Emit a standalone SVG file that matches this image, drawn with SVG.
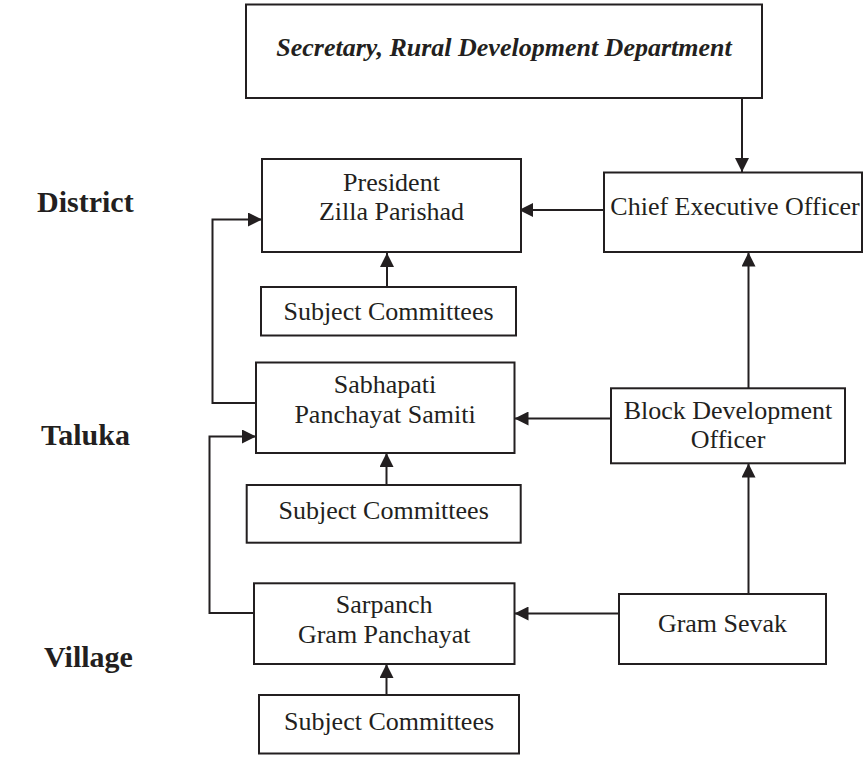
<svg xmlns="http://www.w3.org/2000/svg" width="865" height="761" viewBox="0 0 865 761">
<style>
.box{fill:#fff;stroke:#231f20;stroke-width:2}
.t{font-family:"Liberation Serif","Times New Roman",serif;font-size:26px;fill:#231f20;text-anchor:middle}
.ti{font-weight:bold;font-style:italic}
.lvl{font-family:"Liberation Serif","Times New Roman",serif;font-size:30px;font-weight:bold;fill:#231f20}
.c{fill:none;stroke:#231f20;stroke-width:2}
</style>
<defs>
<marker id="ah" markerUnits="userSpaceOnUse" markerWidth="14" markerHeight="14" refX="14" refY="7" orient="auto">
<path d="M0,0 L14,7 L0,14 z" fill="#231f20"/>
</marker>
</defs>
<g id="levels">
<text class="lvl" x="37" y="212">District</text>
<text class="lvl" x="41" y="445">Taluka</text>
<text class="lvl" x="44" y="667">Village</text>
</g>
<g id="connectors">
<line class="c" x1="742" y1="98" x2="742" y2="172" marker-end="url(#ah)"/>
<line class="c" x1="604" y1="210" x2="519" y2="210" marker-end="url(#ah)"/>
<line class="c" x1="387" y1="287" x2="387" y2="253" marker-end="url(#ah)"/>
<polyline class="c" points="259,403 212.5,403 212.5,219.5 262,219.5" marker-end="url(#ah)"/>
<line class="c" x1="748.5" y1="388" x2="748.5" y2="252.5" marker-end="url(#ah)"/>
<line class="c" x1="611" y1="418.5" x2="514.5" y2="418.5" marker-end="url(#ah)"/>
<line class="c" x1="386.5" y1="485" x2="386.5" y2="453" marker-end="url(#ah)"/>
<polyline class="c" points="254,613 209.5,613 209.5,436.5 256,436.5" marker-end="url(#ah)"/>
<line class="c" x1="748.5" y1="594" x2="748.5" y2="463.5" marker-end="url(#ah)"/>
<line class="c" x1="619" y1="613.5" x2="514.5" y2="613.5" marker-end="url(#ah)"/>
<line class="c" x1="386.5" y1="695" x2="386.5" y2="664" marker-end="url(#ah)"/>
</g>
<g id="secretary">
<rect class="box" x="246" y="4.5" width="516" height="93.5"/>
<text class="t ti" x="504" y="55.5">Secretary, Rural Development Department</text>
</g>
<g id="president">
<rect class="box" x="262" y="159" width="259" height="93"/>
<text class="t" x="391.5" y="190.5">President</text>
<text class="t" x="391.5" y="220">Zilla Parishad</text>
</g>
<g id="ceo">
<rect class="box" x="604" y="172.5" width="258" height="79.5"/>
<text class="t" x="735" y="215">Chief Executive Officer</text>
</g>
<g id="subject1">
<rect class="box" x="261" y="287" width="255" height="48.5"/>
<text class="t" x="388.5" y="320">Subject Committees</text>
</g>
<g id="sabhapati">
<rect class="box" x="256" y="362.5" width="258.5" height="90.5"/>
<text class="t" x="385" y="393.3">Sabhapati</text>
<text class="t" x="385" y="422.7">Panchayat Samiti</text>
</g>
<g id="bdo">
<rect class="box" x="611" y="388.3" width="234" height="75"/>
<text class="t" x="728" y="419">Block Development</text>
<text class="t" x="728" y="448.3">Officer</text>
</g>
<g id="subject2">
<rect class="box" x="246.7" y="485" width="274" height="57.7"/>
<text class="t" x="383.7" y="519.3">Subject Committees</text>
</g>
<g id="sarpanch">
<rect class="box" x="254" y="583.3" width="260.5" height="80.7"/>
<text class="t" x="384.2" y="613.3">Sarpanch</text>
<text class="t" x="384.2" y="642.7">Gram Panchayat</text>
</g>
<g id="gramsevak">
<rect class="box" x="619" y="594" width="207" height="70"/>
<text class="t" x="722.5" y="631.7">Gram Sevak</text>
</g>
<g id="subject3">
<rect class="box" x="259" y="695" width="260" height="58.5"/>
<text class="t" x="389" y="730">Subject Committees</text>
</g>
</svg>
